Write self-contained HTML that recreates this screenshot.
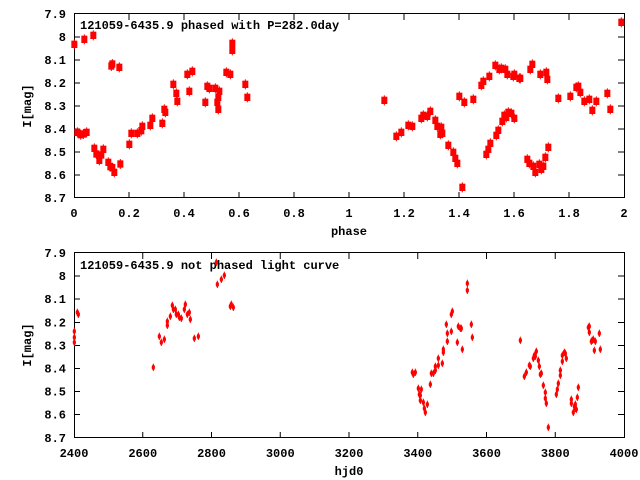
<!DOCTYPE html>
<html><head><style>body{margin:0;background:#fff}svg{display:block}text{font-family:"Liberation Mono",monospace;font-size:12px;font-weight:bold;fill:#000}</style></head><body>
<svg width="640" height="480" viewBox="0 0 640 480" xmlns="http://www.w3.org/2000/svg">
<defs>
<g id="m"><rect x="-9" y="-11" width="18" height="22" fill="#f00"/><rect x="-1.5" y="-15" width="3" height="30" fill="#f00"/></g>
<g id="s"><ellipse cx="0" cy="0" rx="5" ry="8" fill="#f00"/><rect x="-1.5" y="-11" width="3" height="22" fill="#f00"/></g>
</defs>
<!-- TOP FRAME -->
<g stroke="#000" stroke-width="1" fill="none">
<rect x="74.5" y="13.5" width="550" height="184"/>
<path d="M129,14v6M184,14v6M239,14v6M294,14v6M349,14v6M404,14v6M459,14v6M514,14v6M569,14v6M129,198v-6M184,198v-6M239,198v-6M294,198v-6M349,198v-6M404,198v-6M459,198v-6M514,198v-6M569,198v-6
M74,37h6M74,60h6M74,83h6M74,106h6M74,129h6M74,152h6M74,175h6M624,37h-6M624,60h-6M624,83h-6M624,106h-6M624,129h-6M624,152h-6M624,175h-6"/>
<rect x="74.5" y="252.5" width="550" height="185"/>
<path d="M142.75,253v6M211.5,253v6M280.25,253v6M349,253v6M417.75,253v6M486.5,253v6M555.25,253v6M142.75,438v-6M211.5,438v-6M280.25,438v-6M349,438v-6M417.75,438v-6M486.5,438v-6M555.25,438v-6
M74,276h6M74,299h6M74,322.5h6M74,345.5h6M74,368.5h6M74,391.5h6M74,414.5h6M624,276h-6M624,299h-6M624,322.5h-6M624,345.5h-6M624,368.5h-6M624,391.5h-6M624,414.5h-6"/>
</g>
<g text-anchor="end">
<text x="66" y="18">7.9</text><text x="66" y="41">8</text><text x="66" y="64">8.1</text><text x="66" y="87">8.2</text><text x="66" y="110">8.3</text><text x="66" y="133">8.4</text><text x="66" y="156">8.5</text><text x="66" y="179">8.6</text><text x="66" y="202">8.7</text>
<text x="66" y="257">7.9</text><text x="66" y="280">8</text><text x="66" y="303">8.1</text><text x="66" y="326.5">8.2</text><text x="66" y="349.5">8.3</text><text x="66" y="372.5">8.4</text><text x="66" y="395.5">8.5</text><text x="66" y="418.5">8.6</text><text x="66" y="442">8.7</text>
</g>
<g text-anchor="middle">
<text x="74" y="217">0</text><text x="129" y="217">0.2</text><text x="184" y="217">0.4</text><text x="239" y="217">0.6</text><text x="294" y="217">0.8</text><text x="349" y="217">1</text><text x="404" y="217">1.2</text><text x="459" y="217">1.4</text><text x="514" y="217">1.6</text><text x="569" y="217">1.8</text><text x="624" y="217">2</text>
<text x="349" y="235">phase</text>
<text x="74" y="457">2400</text><text x="142.75" y="457">2600</text><text x="211.5" y="457">2800</text><text x="280.25" y="457">3000</text><text x="349" y="457">3200</text><text x="417.75" y="457">3400</text><text x="486.5" y="457">3600</text><text x="555.25" y="457">3800</text><text x="624" y="457">4000</text>
<text x="349" y="475">hjd0</text>
<text transform="translate(31,106) rotate(-90)">I[mag]</text>
<text transform="translate(31,345) rotate(-90)">I[mag]</text>
</g>
<text x="80" y="29">121059-6435.9 phased with P=282.0day</text>
<text x="80" y="269">121059-6435.9 not phased light curve</text>
<!-- top data -->
<g transform="translate(60,0) scale(0.33333)">
<use href="#m" x="43" y="133"/><use href="#m" x="73" y="118"/><use href="#m" x="100" y="106"/><use href="#m" x="52" y="397"/><use href="#m" x="62" y="404"/><use href="#m" x="70" y="402"/><use href="#m" x="80" y="397"/><use href="#m" x="103" y="445"/><use href="#m" x="109" y="462"/><use href="#m" x="118" y="481"/><use href="#m" x="124" y="465"/><use href="#m" x="130" y="448"/><use href="#m" x="145" y="487"/><use href="#m" x="151" y="500"/><use href="#m" x="157" y="503"/><use href="#m" x="163" y="517"/><use href="#m" x="154" y="198"/><use href="#m" x="157" y="192"/><use href="#m" x="178" y="202"/><use href="#m" x="181" y="492"/><use href="#m" x="208" y="433"/><use href="#m" x="214" y="400"/><use href="#m" x="232" y="400"/><use href="#m" x="244" y="392"/><use href="#m" x="247" y="379"/><use href="#m" x="271" y="376"/><use href="#m" x="277" y="355"/><use href="#m" x="307" y="370"/><use href="#m" x="313" y="328"/><use href="#m" x="316" y="337"/><use href="#m" x="340" y="253"/><use href="#m" x="349" y="280"/><use href="#m" x="352" y="304"/><use href="#m" x="382" y="223"/><use href="#m" x="388" y="274"/><use href="#m" x="397" y="214"/><use href="#m" x="436" y="307"/><use href="#m" x="442" y="259"/><use href="#m" x="448" y="265"/><use href="#m" x="466" y="265"/><use href="#m" x="472" y="307"/><use href="#m" x="475" y="292"/><use href="#m" x="478" y="274"/><use href="#m" x="475" y="328"/><use href="#m" x="499" y="217"/><use href="#m" x="511" y="223"/><use href="#m" x="517" y="130"/><use href="#m" x="517" y="151"/><use href="#m" x="556" y="253"/><use href="#m" x="562" y="292"/>
</g>
<g transform="translate(360,0) scale(0.33333)">
<use href="#m" x="73" y="301"/><use href="#m" x="109" y="409"/><use href="#m" x="124" y="397"/><use href="#m" x="145" y="376"/><use href="#m" x="157" y="379"/><use href="#m" x="184" y="355"/><use href="#m" x="190" y="346"/><use href="#m" x="202" y="349"/><use href="#m" x="211" y="334"/><use href="#m" x="226" y="361"/><use href="#m" x="232" y="379"/><use href="#m" x="244" y="382"/><use href="#m" x="241" y="403"/><use href="#m" x="247" y="400"/><use href="#m" x="265" y="436"/><use href="#m" x="280" y="457"/><use href="#m" x="286" y="475"/><use href="#m" x="292" y="490"/><use href="#m" x="307" y="562"/><use href="#m" x="298" y="289"/><use href="#m" x="313" y="307"/><use href="#m" x="340" y="298"/><use href="#m" x="364" y="256"/><use href="#m" x="370" y="244"/><use href="#m" x="388" y="229"/><use href="#m" x="406" y="196"/><use href="#m" x="418" y="208"/><use href="#m" x="424" y="205"/><use href="#m" x="436" y="208"/><use href="#m" x="442" y="223"/><use href="#m" x="460" y="229"/><use href="#m" x="463" y="223"/><use href="#m" x="478" y="235"/><use href="#m" x="481" y="235"/><use href="#m" x="511" y="208"/><use href="#m" x="517" y="193"/><use href="#m" x="541" y="223"/><use href="#m" x="559" y="217"/><use href="#m" x="562" y="238"/><use href="#m" x="379" y="463"/><use href="#m" x="385" y="448"/><use href="#m" x="391" y="430"/><use href="#m" x="409" y="406"/><use href="#m" x="415" y="391"/><use href="#m" x="427" y="364"/><use href="#m" x="433" y="346"/><use href="#m" x="439" y="352"/><use href="#m" x="445" y="337"/><use href="#m" x="454" y="340"/><use href="#m" x="463" y="355"/><use href="#m" x="502" y="478"/><use href="#m" x="508" y="490"/><use href="#m" x="520" y="499"/><use href="#m" x="526" y="517"/><use href="#m" x="538" y="493"/><use href="#m" x="544" y="508"/><use href="#m" x="550" y="499"/><use href="#m" x="556" y="472"/><use href="#m" x="565" y="442"/><use href="#m" x="595" y="295"/><use href="#m" x="631" y="289"/><use href="#m" x="649" y="262"/><use href="#m" x="655" y="259"/><use href="#m" x="661" y="277"/><use href="#m" x="673" y="304"/><use href="#m" x="688" y="298"/><use href="#m" x="697" y="331"/><use href="#m" x="709" y="304"/><use href="#m" x="742" y="280"/><use href="#m" x="751" y="328"/><use href="#m" x="784" y="67"/>
</g>
<!-- bottom data -->
<g transform="translate(60,245) scale(0.33333)">
<use href="#s" x="43" y="259"/><use href="#s" x="43" y="277"/><use href="#s" x="43" y="292"/><use href="#s" x="52" y="202"/><use href="#s" x="55" y="208"/><use href="#s" x="280" y="367"/><use href="#s" x="298" y="274"/><use href="#s" x="304" y="292"/><use href="#s" x="313" y="283"/><use href="#s" x="322" y="229"/><use href="#s" x="322" y="241"/><use href="#s" x="331" y="214"/><use href="#s" x="337" y="181"/><use href="#s" x="340" y="193"/><use href="#s" x="346" y="193"/><use href="#s" x="349" y="208"/><use href="#s" x="355" y="208"/><use href="#s" x="358" y="217"/><use href="#s" x="364" y="220"/><use href="#s" x="373" y="193"/><use href="#s" x="376" y="178"/><use href="#s" x="382" y="208"/><use href="#s" x="388" y="202"/><use href="#s" x="391" y="223"/><use href="#s" x="403" y="280"/><use href="#s" x="415" y="274"/><use href="#s" x="469" y="52"/><use href="#s" x="472" y="118"/><use href="#s" x="484" y="103"/><use href="#s" x="493" y="91"/><use href="#s" x="511" y="184"/><use href="#s" x="514" y="178"/><use href="#s" x="520" y="187"/>
</g>
<g transform="translate(360,245) scale(0.33333)">
<use href="#s" x="157" y="382"/><use href="#s" x="160" y="388"/><use href="#s" x="166" y="382"/><use href="#s" x="175" y="430"/><use href="#s" x="178" y="448"/><use href="#s" x="181" y="451"/><use href="#s" x="184" y="433"/><use href="#s" x="181" y="466"/><use href="#s" x="190" y="472"/><use href="#s" x="193" y="490"/><use href="#s" x="196" y="502"/><use href="#s" x="202" y="478"/><use href="#s" x="211" y="418"/><use href="#s" x="214" y="385"/><use href="#s" x="220" y="385"/><use href="#s" x="226" y="376"/><use href="#s" x="226" y="364"/><use href="#s" x="235" y="361"/><use href="#s" x="235" y="340"/><use href="#s" x="247" y="355"/><use href="#s" x="250" y="313"/><use href="#s" x="250" y="322"/><use href="#s" x="259" y="238"/><use href="#s" x="262" y="265"/><use href="#s" x="262" y="289"/><use href="#s" x="274" y="208"/><use href="#s" x="277" y="199"/><use href="#s" x="274" y="259"/><use href="#s" x="292" y="292"/><use href="#s" x="295" y="244"/><use href="#s" x="301" y="250"/><use href="#s" x="304" y="250"/><use href="#s" x="307" y="313"/><use href="#s" x="322" y="115"/><use href="#s" x="322" y="136"/><use href="#s" x="334" y="238"/><use href="#s" x="337" y="277"/><use href="#s" x="481" y="286"/><use href="#s" x="493" y="394"/><use href="#s" x="499" y="382"/><use href="#s" x="508" y="361"/><use href="#s" x="511" y="364"/><use href="#s" x="520" y="340"/><use href="#s" x="523" y="331"/><use href="#s" x="526" y="334"/><use href="#s" x="529" y="319"/><use href="#s" x="535" y="346"/><use href="#s" x="538" y="364"/><use href="#s" x="541" y="388"/><use href="#s" x="544" y="385"/><use href="#s" x="550" y="421"/><use href="#s" x="556" y="442"/><use href="#s" x="556" y="460"/><use href="#s" x="559" y="475"/><use href="#s" x="565" y="547"/><use href="#s" x="589" y="448"/><use href="#s" x="592" y="433"/><use href="#s" x="595" y="415"/><use href="#s" x="601" y="376"/><use href="#s" x="601" y="391"/><use href="#s" x="607" y="349"/><use href="#s" x="607" y="331"/><use href="#s" x="613" y="322"/><use href="#s" x="616" y="325"/><use href="#s" x="619" y="340"/><use href="#s" x="634" y="463"/><use href="#s" x="634" y="475"/><use href="#s" x="640" y="502"/><use href="#s" x="643" y="484"/><use href="#s" x="646" y="478"/><use href="#s" x="646" y="490"/><use href="#s" x="649" y="493"/><use href="#s" x="652" y="457"/><use href="#s" x="655" y="427"/><use href="#s" x="685" y="247"/><use href="#s" x="688" y="244"/><use href="#s" x="688" y="262"/><use href="#s" x="694" y="289"/><use href="#s" x="697" y="286"/><use href="#s" x="700" y="283"/><use href="#s" x="706" y="289"/><use href="#s" x="703" y="316"/><use href="#s" x="718" y="265"/><use href="#s" x="721" y="313"/>
</g>
</svg>
</body></html>
